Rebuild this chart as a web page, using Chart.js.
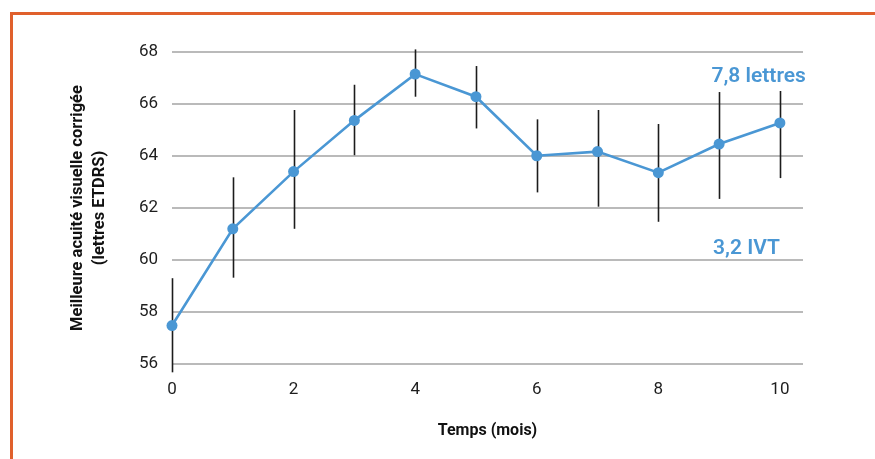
<!DOCTYPE html>
<html>
<head>
<meta charset="utf-8">
<script src="https://cdn.jsdelivr.net/npm/chart.js@4/dist/chart.umd.min.js"></script>
<style>
  html, body { margin: 0; padding: 0; background: #fff; }
  #wrap { position: absolute; left: 0; top: 0; width: 875px; height: 459px; }
  #frame { position: absolute; left: 10px; top: 12px; right: 0; bottom: 0;
           border-top: 3px solid #e0602c; border-left: 3px solid #e0602c; }
  canvas { position: absolute; left: 0; top: 0; }
</style>
</head>
<body>
<div id="wrap">
  <div id="frame"></div>
  <canvas id="c" width="875" height="459"></canvas>
</div>
<script>
const months = [0, 1, 2, 3, 4, 5, 6, 7, 8, 9, 10];
const acuity = [57.48, 61.2, 63.4, 65.37, 67.15, 66.28, 64.01, 64.17, 63.36, 64.46, 65.27];
const errHigh = [59.3, 63.18, 65.77, 66.74, 68.1, 67.46, 65.41, 65.77, 65.23, 66.46, 66.5];
const errLow = [55.68, 59.32, 61.2, 64.03, 66.28, 65.06, 62.6, 62.05, 61.47, 62.35, 63.15];
const yTicks = [56, 58, 60, 62, 64, 66, 68];
const xTicks = [0, 2, 4, 6, 8, 10];
const notes = [
  { text: '7,8 lettres', x: 9.65, y: 67.05 },
  { text: '3,2 IVT', x: 9.45, y: 60.45 }
];

const BLUE = '#4a97d4';
const FONT = 'Roboto, "DejaVu Sans", sans-serif';

const errorBars = {
  id: 'errorBars',
  beforeDatasetsDraw(chart) {
    const { ctx, scales: { x, y } } = chart;
    ctx.save();
    ctx.strokeStyle = '#1c1c1c';
    ctx.lineWidth = 1.6;
    months.forEach((m, i) => {
      const px = Math.round(x.getPixelForValue(m)) + 0.5;
      ctx.beginPath();
      ctx.moveTo(px, y.getPixelForValue(errHigh[i]));
      ctx.lineTo(px, y.getPixelForValue(errLow[i]));
      ctx.stroke();
    });
    ctx.restore();
  }
};

const annotations = {
  id: 'annotations',
  afterDatasetsDraw(chart) {
    const { ctx, scales: { x, y } } = chart;
    ctx.save();
    ctx.fillStyle = BLUE;
    ctx.font = '600 21px ' + FONT;
    ctx.textAlign = 'center';
    ctx.textBaseline = 'middle';
    notes.forEach(n => ctx.fillText(n.text, x.getPixelForValue(n.x), y.getPixelForValue(n.y)));
    ctx.restore();
  }
};

new Chart(document.getElementById('c'), {
  type: 'line',
  data: {
    datasets: [{
      data: months.map((m, i) => ({ x: m, y: acuity[i] })),
      borderColor: BLUE,
      backgroundColor: BLUE,
      borderWidth: 2.6,
      pointRadius: 5.5,
      pointHoverRadius: 5.5,
      pointBackgroundColor: BLUE,
      pointBorderWidth: 0,
      tension: 0,
      clip: false
    }]
  },
  options: {
    responsive: false,
    animation: false,
    events: [],
    layout: { padding: { left: 60, top: 52, right: 72, bottom: 0 } },
    plugins: { legend: { display: false }, tooltip: { enabled: false } },
    scales: {
      x: {
        type: 'linear',
        min: 0,
        max: 10.38,
        afterBuildTicks(s) { s.ticks = xTicks.map(v => ({ value: v })); },
        afterFit(s) { s.height = 95; },
        grid: { display: false, drawTicks: false },
        border: { display: false },
        ticks: { color: '#1e1e1e', font: { family: FONT, size: 17 }, padding: 16, maxRotation: 0 },
        title: {
          display: true, text: 'Temps (mois)', color: '#111',
          font: { family: FONT, size: 16, weight: 'bold' },
          padding: { top: 0, bottom: 18 }
        }
      },
      y: {
        min: 56,
        max: 68,
        afterBuildTicks(s) { s.ticks = yTicks.map(v => ({ value: v })); },
        afterFit(s) { s.width = 112; },
        grid: { color: '#bababa', lineWidth: 2, drawTicks: false },
        border: { display: false },
        ticks: { color: '#1e1e1e', font: { family: FONT, size: 17 }, padding: 14 },
        title: {
          display: true,
          text: ['Meilleure acuité visuelle corrigée', '(lettres ETDRS)'],
          color: '#111',
          font: { family: FONT, size: 16.5, weight: 'bold', lineHeight: 1.32 },
          padding: { top: 7, bottom: 0 }
        }
      }
    }
  },
  plugins: [errorBars, annotations]
});
</script>
</body>
</html>
